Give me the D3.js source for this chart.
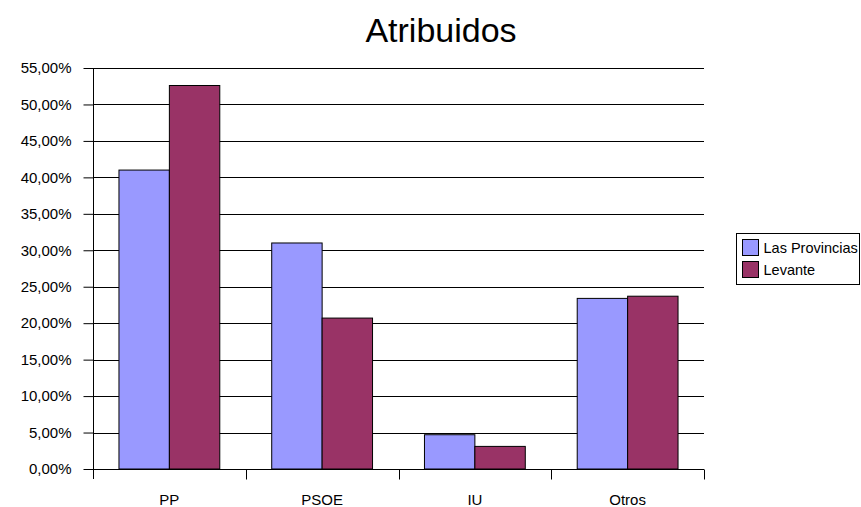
<!DOCTYPE html>
<html>
<head>
<meta charset="utf-8">
<script src="https://cdn.jsdelivr.net/npm/d3@7"></script>
<style>
  body { margin: 0; background: #fff; }
  text { font-family: "Liberation Sans", Arial, sans-serif; fill: #000; }
</style>
</head>
<body>
<div class="chart"></div>
<script>
const categories = ["PP", "PSOE", "IU", "Otros"];
const seriesNames = ["Las Provincias", "Levante"];
const lasProvincias = [41.0, 31.0, 4.7, 23.4];
const levante = [52.6, 20.7, 3.1, 23.7];
const colors = ["#9999FF", "#993366"];
const yTicks = [0, 5, 10, 15, 20, 25, 30, 35, 40, 45, 50, 55];

const data = categories.map((c, i) => ({ cat: c, values: [lasProvincias[i], levante[i]] }));

const W = 861, H = 507;
const margin = { top: 68, right: 157, bottom: 38, left: 93 };
const width = W - margin.left - margin.right;
const height = H - margin.top - margin.bottom;

const svg = d3.select(".chart").append("svg")
  .attr("width", W)
  .attr("height", H);

const g = svg.append("g")
  .attr("transform", "translate(" + margin.left + "," + margin.top + ")");

const x0 = d3.scaleBand().domain(categories).range([0, width])
  .paddingInner(0.34).paddingOuter(0.17);
const x1 = d3.scaleBand().domain([0, 1]).range([0, x0.bandwidth()]);
const y = d3.scaleLinear().domain([0, 55]).range([height, 0]);

// gridlines
g.append("g")
  .selectAll("line")
  .data(yTicks.slice(1))
  .join("line")
  .attr("x1", 0).attr("x2", width)
  .attr("y1", d => Math.round(y(d)) + 0.5).attr("y2", d => Math.round(y(d)) + 0.5)
  .attr("stroke", "#000")
  .attr("stroke-width", 1);

// bars
g.append("g")
  .selectAll("g")
  .data(data)
  .join("g")
  .attr("transform", d => "translate(" + x0(d.cat) + ",0)")
  .selectAll("rect")
  .data(d => d.values)
  .join("rect")
  .attr("x", (d, i) => x1(i))
  .attr("y", d => y(d))
  .attr("width", x1.bandwidth())
  .attr("height", d => height - y(d))
  .attr("fill", (d, i) => colors[i])
  .attr("stroke", "#000")
  .attr("stroke-width", 1);

// y axis
const yAxis = g.append("g")
  .attr("transform", "translate(0.5,0)")
  .call(d3.axisLeft(y).tickValues(yTicks).tickSize(10).tickPadding(12)
    .tickFormat(d => d3.format(".2f")(d).replace(".", ",") + "%"));
yAxis.select(".domain").attr("d", "M0," + (height + 10) + "V0");
yAxis.selectAll("text").style("font-size", "15px");
yAxis.selectAll(".tick line").attr("stroke", "#000");

// x axis
const xAxis = g.append("g")
  .attr("transform", "translate(0," + (height + 0.5) + ")");
xAxis.append("line")
  .attr("x1", 0).attr("x2", width)
  .attr("stroke", "#000");
xAxis.selectAll(".sep")
  .data(d3.range(1, categories.length + 1))
  .join("line")
  .attr("class", "sep")
  .attr("x1", i => Math.round(i * x0.step()) + 0.5)
  .attr("x2", i => Math.round(i * x0.step()) + 0.5)
  .attr("y1", 0).attr("y2", 10)
  .attr("stroke", "#000");
xAxis.selectAll(".lbl")
  .data(categories)
  .join("text")
  .attr("class", "lbl")
  .attr("x", d => x0(d) + x0.bandwidth() / 2)
  .attr("y", 35)
  .attr("text-anchor", "middle")
  .style("font-size", "15px")
  .text(d => d);

// title
svg.append("text")
  .attr("x", 441)
  .attr("y", 42)
  .attr("text-anchor", "middle")
  .style("font-size", "34px")
  .text("Atribuidos");

// legend
const legend = svg.append("g").attr("transform", "translate(736.5,233.5)");
legend.append("rect")
  .attr("width", 123).attr("height", 51)
  .attr("fill", "#fff").attr("stroke", "#000");
seriesNames.forEach((name, i) => {
  legend.append("rect")
    .attr("x", 6).attr("y", 6 + i * 22)
    .attr("width", 16).attr("height", 16)
    .attr("fill", colors[i]).attr("stroke", "#000");
  legend.append("text")
    .attr("x", 27).attr("y", 19 + i * 22)
    .style("font-size", "14.5px")
    .text(name);
});
</script>
</body>
</html>
